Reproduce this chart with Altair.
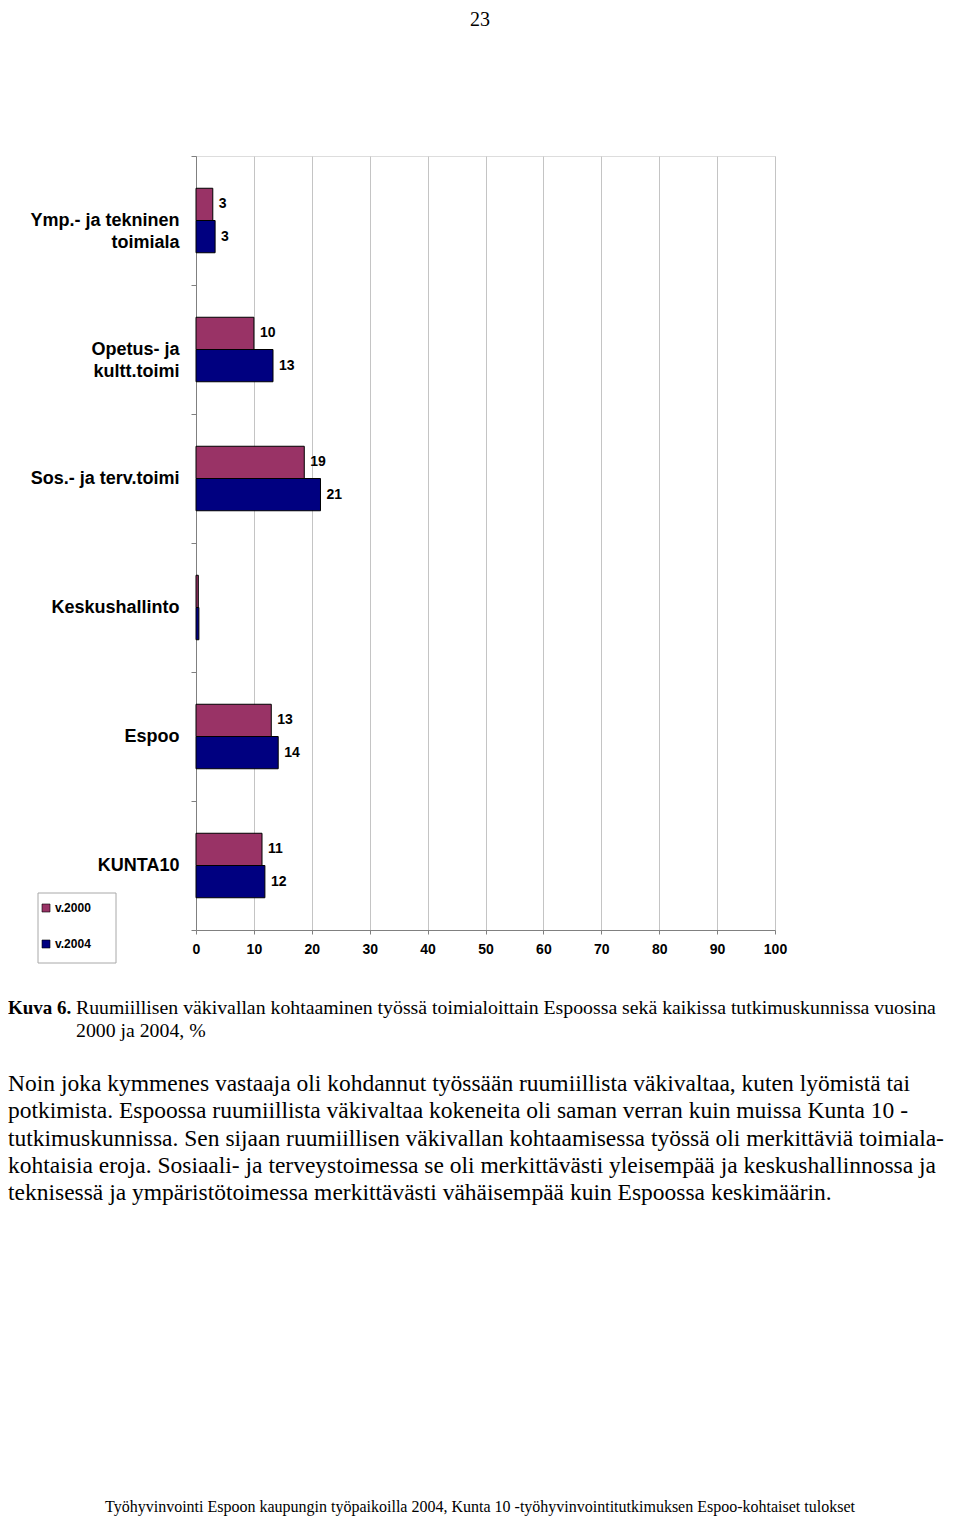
import json
import altair as alt
import pandas as pd

# ---------------- data ----------------
categories = ["Ymp.- ja tekninen toimiala", "Opetus- ja kultt.toimi", "Sos.- ja terv.toimi",
              "Keskushallinto", "Espoo", "KUNTA10"]
label_lines = [["Ymp.- ja tekninen", "toimiala"], ["Opetus- ja", "kultt.toimi"], ["Sos.- ja terv.toimi"],
               ["Keskushallinto"], ["Espoo"], ["KUNTA10"]]
years = ["v.2000", "v.2004"]
values_2000 = [2.9, 10.0, 18.7, 0.4, 13.0, 11.4]
values_2004 = [3.3, 13.3, 21.5, 0.5, 14.2, 11.9]
labels_2000 = ["3", "10", "19", "", "13", "11"]
labels_2004 = ["3", "13", "21", "", "14", "12"]
colors = ["#993366", "#000080"]
x_ticks = [0, 10, 20, 30, 40, 50, 60, 70, 80, 90, 100]

page_number = "23"
caption_bold = "Kuva 6."
caption_lines = ["Ruumiillisen väkivallan kohtaaminen työssä toimialoittain Espoossa sekä kaikissa tutkimuskunnissa vuosina",
                 "2000 ja 2004, %"]
paragraph_lines = [
    "Noin joka kymmenes vastaaja oli kohdannut työssään ruumiillista väkivaltaa, kuten lyömistä tai",
    "potkimista. Espoossa ruumiillista väkivaltaa kokeneita oli saman verran kuin muissa Kunta 10 -",
    "tutkimuskunnissa. Sen sijaan ruumiillisen väkivallan kohtaamisessa työssä oli merkittäviä toimiala-",
    "kohtaisia eroja. Sosiaali- ja terveystoimessa se oli merkittävästi yleisempää ja keskushallinnossa ja",
    "teknisessä ja ympäristötoimessa merkittävästi vähäisempää kuin Espoossa keskimäärin.",
]
footer = "Työhyvinvointi Espoon kaupungin työpaikoilla 2004, Kunta 10 -työhyvinvointitutkimuksen Espoo-kohtaiset tulokset"

rows = []
for c, v, l in zip(categories, values_2000, labels_2000):
    rows.append({"category": c, "year": years[0], "value": v, "label": l})
for c, v, l in zip(categories, values_2004, labels_2004):
    rows.append({"category": c, "year": years[1], "value": v, "label": l})
df = pd.DataFrame(rows)

# multi-line y labels
expr = "datum.label"
for c, lines in reversed(list(zip(categories, label_lines))):
    expr = f"datum.value == {json.dumps(c)} ? {json.dumps(lines)} : ({expr})"

SANS = "Liberation Sans"
SERIF = "Liberation Serif"

y_enc = alt.Y("category:N", sort=categories, title=None,
              scale=alt.Scale(paddingInner=0, paddingOuter=0),
              axis=alt.Axis(labelExpr=expr, labelFont=SANS, labelFontSize=18, labelFontWeight="bold",
                            labelColor="black", labelLineHeight=22, labelPadding=12, tickSize=5,
                            tickBand="extent", tickColor="#808080", domainColor="#808080",
                            labelLimit=300, grid=False))
x_enc = alt.X("value:Q", title=None, scale=alt.Scale(domain=[0, 100], nice=False),
              axis=alt.Axis(values=x_ticks, labelFont=SANS, labelFontSize=14, labelFontWeight="bold",
                            labelColor="black", labelPadding=8, tickSize=4, tickColor="#808080",
                            labelFlush=False, domainColor="#808080", grid=True, gridColor="#c4c4c4",
                            gridWidth=1))
yoff = alt.YOffset("year:N", sort=years, scale=alt.Scale(paddingOuter=1.0, paddingInner=0))

one = pd.DataFrame({"a": [0]})

# legend frame (drawn beneath the legend)
legend_box = alt.Chart(one).mark_rect(fill="white", stroke="#a8a8a8", strokeWidth=1).encode(
    x=alt.value(-158), x2=alt.value(-80), y=alt.value(737), y2=alt.value(807))

bars = alt.Chart(df).mark_bar(stroke="black", strokeWidth=1).encode(
    x=x_enc, y=y_enc, yOffset=yoff,
    color=alt.Color("year:N", sort=years, scale=alt.Scale(domain=years, range=colors),
                    legend=alt.Legend(title=None, orient="none", legendX=-156, legendY=746,
                                      symbolType="square", symbolSize=64, symbolStrokeColor="black",
                                      symbolStrokeWidth=0.6, labelFont=SANS, labelFontSize=12,
                                      labelFontWeight="bold", labelColor="black", rowPadding=24,
                                      padding=0, labelOffset=3)),
)

value_labels = alt.Chart(df).transform_filter("datum.label != ''").mark_text(
    align="left", baseline="middle", dx=6, font=SANS, fontSize=14, fontWeight="bold", color="black"
).encode(x=alt.X("value:Q"), y=alt.Y("category:N", sort=categories), yOffset=yoff, text="label:N")


def txt(text, x, y, **kw):
    return alt.Chart(one).mark_text(**kw).encode(x=alt.value(x), y=alt.value(y), text=alt.value(text))


page_num = txt(page_number, 284, -130, font=SERIF, fontSize=20, align="center", baseline="alphabetic",
               color="black")
cap_b = txt(caption_bold, -188, 852, font=SERIF, fontSize=19, fontWeight="bold", align="left",
            baseline="middle", color="black")
cap_n = txt(caption_lines, -120, 852, font=SERIF, fontSize=19.8, align="left", baseline="middle",
            lineHeight=23, color="black")
para = txt(paragraph_lines, -188, 928, font=SERIF, fontSize=23.5, align="left", baseline="middle",
           lineHeight=27.3, color="black")
foot = txt(footer, 284, 1359, font=SERIF, fontSize=16, align="center", baseline="bottom", color="black")

chart = alt.layer(legend_box, bars, value_labels, page_num, cap_b, cap_n, para, foot).properties(
    width=579, height=774,
    padding={"left": 188, "top": 148, "right": 177, "bottom": 586},
    autosize=alt.AutoSizeParams(type="none"),
).configure_view(stroke="#808080", strokeWidth=1).configure(background="white")

chart.save("out.html", embed_options={"renderer": "svg", "actions": False})
